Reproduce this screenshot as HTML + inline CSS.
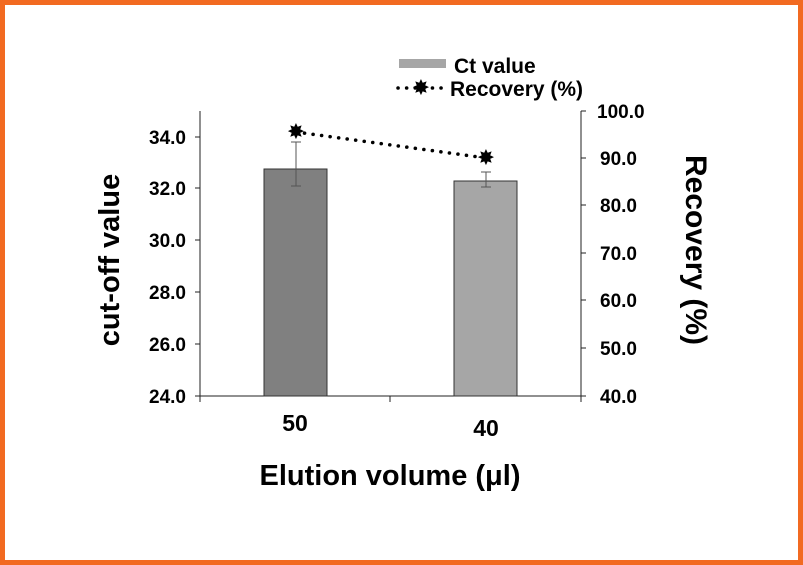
<!DOCTYPE html>
<html><head><style>
body{margin:0;background:#fff}
.f{position:absolute;left:0;top:0;width:803px;height:565px;box-sizing:border-box;border:5px solid #f26a21;}
svg{position:absolute;left:0;top:0}
text{font-family:"Liberation Sans",sans-serif;font-weight:bold;fill:#000}
</style></head><body>
<div class="f"></div>
<svg width="803" height="565">
<g stroke="#222" stroke-width="1" fill="none">
<line x1="200" y1="111" x2="200" y2="396"/>
<line x1="581" y1="111" x2="581" y2="402"/>
<line x1="200" y1="396" x2="581" y2="396"/>
<line x1="200" y1="396" x2="200" y2="402"/>
<line x1="390" y1="396" x2="390" y2="402"/>
<line x1="195" y1="137" x2="200" y2="137"/><line x1="195" y1="188" x2="200" y2="188"/>
<line x1="195" y1="240" x2="200" y2="240"/><line x1="195" y1="292" x2="200" y2="292"/>
<line x1="195" y1="344" x2="200" y2="344"/><line x1="195" y1="396" x2="200" y2="396"/>
<line x1="581" y1="111" x2="586" y2="111"/><line x1="581" y1="158" x2="586" y2="158"/>
<line x1="581" y1="205" x2="586" y2="205"/><line x1="581" y1="253" x2="586" y2="253"/>
<line x1="581" y1="300" x2="586" y2="300"/><line x1="581" y1="348" x2="586" y2="348"/>
<line x1="581" y1="396" x2="586" y2="396"/>
</g>
<rect x="264" y="169" width="63" height="227" fill="#808080" stroke="#333"/>
<rect x="454" y="181" width="63" height="215" fill="#a6a6a6" stroke="#333"/>
<g stroke="#555" stroke-width="1">
<line x1="296" y1="142" x2="296" y2="186"/><line x1="291" y1="142" x2="301" y2="142"/><line x1="291" y1="186" x2="301" y2="186"/>
<line x1="486" y1="172" x2="486" y2="187"/><line x1="481" y1="172" x2="491" y2="172"/><line x1="481" y1="187" x2="491" y2="187"/>
</g>
<line x1="296" y1="132" x2="486" y2="158" stroke="#000" stroke-width="3.5" stroke-dasharray="0.1 8.5" stroke-linecap="round"/>
<text x="296" y="138" font-size="19" text-anchor="middle">✸</text>
<text x="486" y="164" font-size="19" text-anchor="middle">✸</text>
<rect x="399" y="59" width="47" height="9" fill="#a6a6a6"/>
<text x="454" y="73" font-size="21">Ct value</text>
<line x1="398" y1="88" x2="448" y2="88" stroke="#000" stroke-width="3.5" stroke-dasharray="0.1 8.5" stroke-linecap="round"/>
<text x="421" y="94" font-size="19" text-anchor="middle">✸</text>
<text x="450" y="96" font-size="21">Recovery (%)</text>
<g font-size="19" text-anchor="end">
<text x="186" y="144">34.0</text><text x="186" y="195">32.0</text><text x="186" y="247">30.0</text>
<text x="186" y="299">28.0</text><text x="186" y="351">26.0</text><text x="186" y="403">24.0</text>
</g>
<g font-size="19">
<text x="597" y="118">100.0</text><text x="600" y="165">90.0</text><text x="600" y="212">80.0</text>
<text x="600" y="260">70.0</text><text x="600" y="307">60.0</text><text x="600" y="355">50.0</text>
<text x="600" y="403">40.0</text>
</g>
<text x="295" y="431" font-size="23" text-anchor="middle">50</text>
<text x="486" y="436" font-size="23" text-anchor="middle">40</text>
<text x="390" y="485" font-size="29" text-anchor="middle">Elution volume (μl)</text>
<text transform="translate(119,260) rotate(-90)" font-size="29" text-anchor="middle">cut-off value</text>
<text transform="translate(686,250) rotate(90)" font-size="30" text-anchor="middle">Recovery (%)</text>
</svg>
</body></html>
